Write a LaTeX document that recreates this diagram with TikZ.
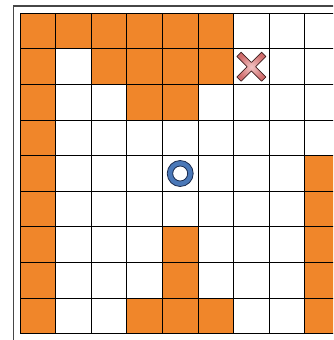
\documentclass[tikz,border=0pt]{standalone}
\definecolor{wall}{RGB}{240,134,42}
\definecolor{ringblue}{RGB}{74,120,184}
\definecolor{ringedge}{RGB}{28,45,80}
\definecolor{crosslight}{RGB}{242,196,196}
\definecolor{crossdark}{RGB}{208,108,108}
\definecolor{crossedge}{RGB}{60,30,30}
\definecolor{framegray}{RGB}{70,70,70}
\tikzset{
  wallcell/.style={fill=wall},
  gridline/.style={draw=black,line width=1pt},
  outerframe/.style={draw=framegray,line width=1.1pt},
}
\begin{document}
\begin{tikzpicture}[x=1pt,y=-1pt]
\clip (0,0) rectangle (333,340);
\fill[white] (0,0) rectangle (333,340);
\draw[outerframe] (13.3,6) rectangle (400,400);
\def\cs{35.6}
\def\ox{20}
\def\oy{13.3}
% orange cells (row/col)
\foreach \r/\c in {0/0,0/1,0/2,0/3,0/4,0/5,
                   1/0,1/2,1/3,1/4,1/5,
                   2/0,2/3,2/4,
                   3/0,4/0,5/0,6/0,7/0,8/0,
                   4/8,5/8,6/8,7/8,8/8,
                   6/4,7/4,8/4,8/3,8/5}{
  \fill[wallcell] (\ox+\c*\cs,\oy+\r*\cs) rectangle (\ox+\c*\cs+\cs,\oy+\r*\cs+\cs);
}
% grid lines
\foreach \i in {0,...,9}{
  \draw[gridline] (\ox+\i*\cs,\oy) -- (\ox+\i*\cs,\oy+9*\cs);
  \draw[gridline] (\ox,\oy+\i*\cs) -- (\ox+9*\cs,\oy+\i*\cs);
}
% goal ring
\coordinate (ring) at (\ox+4.5*\cs,\oy+4.5*\cs);
\fill[ringblue,even odd rule] (ring) circle[radius=13] (ring) circle[radius=7.5];
\draw[ringedge,line width=0.8pt] (ring) circle[radius=13] (ring) circle[radius=7.5];
% cross marker
\coordinate (cross) at (\ox+6.5*\cs,\oy+1.5*\cs);
\begin{scope}[shift={(cross)},rotate=45]
\shadedraw[inner color=crosslight,outer color=crossdark,draw=crossedge,line width=0.7pt,line join=round]
  (17.5,3) -- (3,3) -- (3,17.5) -- (-3,17.5) -- (-3,3) -- (-17.5,3) -- (-17.5,-3)
  -- (-3,-3) -- (-3,-17.5) -- (3,-17.5) -- (3,-3) -- (17.5,-3) -- cycle;
\end{scope}
\end{tikzpicture}
\end{document}
